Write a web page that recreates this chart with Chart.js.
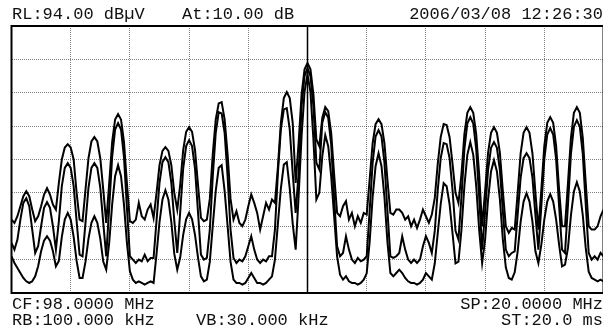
<!DOCTYPE html>
<html>
<head>
<meta charset="utf-8">
<script src="https://cdn.jsdelivr.net/npm/chart.js@4/dist/chart.umd.min.js"></script>
<style>
  html, body { margin: 0; padding: 0; background: #fff; overflow: hidden; }
  #wrap { width: 603px; height: 330px; overflow: hidden; position: relative; }
  canvas { display: block; }
</style>
</head>
<body>
<div id="wrap"><canvas id="c" width="606" height="330"></canvas></div>
<script>
// Sweep: 88 MHz .. 108 MHz (CF 98 MHz, SP 20 MHz), 201 sweep points
const sweepStartMHz = 88;
const sweepStepMHz = 0.1;
const sweepPoints = 201;
const freqMHz = [];
for (let i = 0; i < sweepPoints; i++) freqMHz.push(+(sweepStartMHz + i * sweepStepMHz).toFixed(1));

// Level axis (dBµV): reference level 94, 10 dB/div, 8 divisions
const levelTicks = [14, 24, 34, 44, 54, 64, 74, 84, 94];
const freqTicks = [88, 90, 92, 94, 96, 98, 100, 102, 104, 106, 108];

// Trace 1 (upper, max hold) dBµV
const traceUpper = [
  36, 35, 37, 40, 43, 44.5, 43, 39, 35.5, 37,
  40, 43.5, 45.4, 43.5, 40.5, 39, 47, 54, 57.6, 58.6,
  57.6, 54, 44, 36, 35.5, 45, 54.3, 59.4, 60.7, 59.4,
  54.3, 45, 35, 46.8, 59.2, 66, 67.6, 66, 59.2, 46.8,
  35.5, 35, 36, 41, 37, 36, 39, 40.5, 36.5, 44,
  52.3, 56.6, 57.7, 56.6, 52.3, 44, 39, 46.5, 56.8, 62.3,
  63.7, 62.3, 56.8, 46.5, 36.5, 35.5, 36, 42.2, 55.6, 66,
  70.8, 71.2, 66, 55.6, 42.2, 36, 38.5, 35, 34, 36,
  40, 43.5, 41, 38, 33, 37, 41, 39, 42, 41,
  51.7, 65, 72.4, 74.2, 72.4, 65, 47, 59, 73.5, 81,
  82.9, 81, 73.5, 60, 58, 66.5, 69.7, 68.5, 62, 49.5,
  38, 37, 40, 41.5, 36, 38, 34, 37, 35, 38,
  37.5, 48, 58.8, 64.6, 66.1, 64.6, 58.8, 48, 38, 37.5,
  39, 39, 38, 36, 37, 34, 36, 33.5, 36, 39,
  37, 35, 37.5, 42.5, 52.7, 60.7, 64.6, 64.3, 60.7, 52.7,
  44, 41, 49.5, 61.5, 68, 69.7, 68, 61.5, 49.5, 34,
  44.5, 56, 62, 63.7, 62, 56, 44.5, 34, 32, 33.5,
  33, 44, 55.8, 62, 63.7, 62, 55.8, 44, 33, 45,
  58, 65, 66.7, 65, 58, 45, 34, 34, 47, 60.5,
  68, 69.7, 68, 60.5, 47, 34, 33, 33, 34, 37,
  39
];

// Trace 2 (middle, clear/write) dBµV
const traceMiddle = [
  29, 27, 30, 36, 41, 42.4, 40, 33, 26, 28,
  34, 39.5, 41.2, 39.5, 34, 27, 35.5, 46, 51.5, 52.9,
  51.5, 46, 35.5, 25.5, 25, 35, 45.5, 51.5, 52.9, 51.5,
  45.5, 35, 25, 39.5, 54.7, 63, 64.9, 63, 54.7, 39.5,
  25, 24, 23, 24, 23.5, 25.5, 23.5, 24.5, 24.5, 35.7,
  47, 53.2, 54.7, 53.2, 47, 35.7, 26, 38.3, 51.3, 58,
  59.8, 58, 51.3, 38.3, 25.5, 24, 24.5, 33, 49, 62,
  68.2, 67.8, 62, 49, 33, 24.5, 23, 24, 23.5, 25,
  28, 31, 27, 24, 23, 24, 23.5, 25, 25, 33,
  50, 63, 69, 69.4, 63, 50, 38, 50, 70, 79,
  81.4, 79, 70, 53, 51, 65, 68.2, 66.5, 58.5, 42.5,
  28, 25, 26, 31, 27, 24, 23, 24.5, 23.5, 24,
  25, 38.7, 53, 60.9, 62.8, 60.9, 53, 38.7, 25, 24.5,
  25, 26, 31, 27, 24, 23, 24, 23, 24, 28,
  31, 29, 26, 32.6, 44.8, 54.4, 58.9, 58.6, 54.4, 44.8,
  32.6, 30, 42.7, 57, 64.8, 66.7, 64.8, 57, 42.7, 27,
  38.5, 50.8, 57.5, 59.2, 57.5, 50.8, 38.5, 27, 25, 26,
  26.5, 37.4, 48.5, 54.4, 55.9, 54.4, 48.5, 37.4, 27, 40,
  54, 61.5, 63.4, 61.5, 54, 40, 27, 26, 40.5, 55.7,
  63.8, 65.8, 63.8, 55.7, 40.5, 26, 24, 25, 24, 26,
  25
];

// Trace 3 (lower, min hold) dBµV
const traceLower = [
  25, 23, 21.5, 20, 18.5, 17.5, 17, 17.5, 19, 22,
  26.5, 29.7, 31, 29.7, 26.5, 22, 23.6, 30.8, 36, 38,
  36, 30.8, 23.6, 18.5, 18.5, 23.4, 30.2, 35, 37, 35,
  30.2, 23.4, 21, 29, 40.5, 49, 52.3, 49, 40.5, 29,
  20.5, 18, 17, 17.5, 17, 16.5, 17, 17.5, 17, 25.7,
  35.2, 42, 44.8, 42, 35.2, 25.7, 21, 24.7, 31.4, 36.1,
  38, 36.1, 31.4, 24.7, 19, 17.5, 18, 23.4, 34.2, 44.6,
  51.5, 52.3, 44.6, 34.2, 23.4, 18, 17, 17, 16.5, 17,
  18.5, 20, 18.5, 17, 17, 16.5, 17, 18, 19, 24,
  34.8, 45.3, 52.5, 53.2, 45.3, 34.8, 27, 43, 61, 74.3,
  79.5, 74.3, 60, 42, 44, 55, 61.3, 58, 49, 37,
  25, 19.5, 18, 19, 17.5, 17, 17, 16.5, 17, 18,
  19.9, 29.4, 42.7, 52, 55.9, 52, 42.7, 29.4, 20, 19,
  20, 21, 20, 18.5, 17.5, 17, 17, 16.5, 17, 18,
  20, 19, 18, 22.9, 31.9, 40.6, 46.9, 46, 40.6, 31.9,
  22.9, 23.4, 32.8, 46, 55.4, 59.2, 55.4, 46, 32.8, 23,
  30, 42, 50.4, 53.8, 50.4, 42, 30, 21.7, 18.5, 18,
  20.2, 26.5, 35.3, 41.4, 43.9, 41.4, 35.3, 26.5, 23, 28.5,
  36, 41.4, 43.6, 41.4, 36, 28.5, 22, 22.5, 27.5, 37.3,
  44.4, 47.2, 44.4, 37.3, 27.5, 20.4, 18.5, 18, 17.5, 18,
  17.5
];

// Instrument annotation texts
const headerLeft = "RL:94.00 dB\u00B5V";
const headerMid = "At:10.00 dB";
const headerRight = "2006/03/08 12:26:30";
const footer1Left = "CF:98.0000 MHz";
const footer1Right = "SP:20.0000 MHz";
const footer2Left = "RB:100.000 kHz";
const footer2Mid = "VB:30.000 kHz";
const footer2Right = "ST:20.0 ms";
const centerFreqMHz = 98;

const toPts = arr => arr.map((v, i) => ({ x: freqMHz[i], y: v }));

const frame = {
  id: 'frame',
  beforeDatasetsDraw(chart) {
    const { ctx, chartArea: a, scales } = chart;
    const cx = scales.x.getPixelForValue(centerFreqMHz);
    ctx.save();
    ctx.strokeStyle = '#000';
    ctx.lineWidth = 1.5;
    ctx.beginPath();
    ctx.moveTo(cx, a.top);
    ctx.lineTo(cx, a.bottom);
    ctx.stroke();
    ctx.restore();
  },
  afterDraw(chart) {
    const { ctx, chartArea: a } = chart;
    ctx.save();
    ctx.strokeStyle = '#000';
    ctx.lineWidth = 2;
    ctx.strokeRect(a.left, a.top, a.right - a.left, a.bottom - a.top);
    ctx.fillStyle = '#111';
    ctx.font = '17px "Liberation Mono", "Courier New", monospace';
    ctx.textBaseline = 'alphabetic';
    ctx.textAlign = 'left';
    ctx.fillText(headerLeft, 12, 19);
    ctx.fillText(headerMid, 182, 19);
    ctx.fillText(footer1Left, 12, 309);
    ctx.fillText(footer2Left, 12, 325);
    ctx.fillText(footer2Mid, 196, 325);
    ctx.textAlign = 'right';
    ctx.fillText(headerRight, 603, 19);
    ctx.fillText(footer1Right, 603, 309);
    ctx.fillText(footer2Right, 603, 325);
    ctx.restore();
  }
};

const lineStyle = {
  borderColor: '#000',
  borderWidth: 2,
  pointRadius: 0,
  tension: 0,
  fill: false
};

new Chart(document.getElementById('c'), {
  type: 'line',
  data: {
    datasets: [
      Object.assign({ label: 'Trace 1', data: toPts(traceUpper) }, lineStyle),
      Object.assign({ label: 'Trace 2', data: toPts(traceMiddle) }, lineStyle),
      Object.assign({ label: 'Trace 3', data: toPts(traceLower) }, lineStyle)
    ]
  },
  options: {
    responsive: false,
    animation: false,
    events: [],
    layout: { padding: { left: 11.5, right: 2.5, top: 26, bottom: 37 } },
    plugins: { legend: { display: false }, tooltip: { enabled: false }, title: { display: false } },
    scales: {
      x: {
        type: 'linear',
        min: freqTicks[0],
        max: freqTicks[freqTicks.length - 1],
        afterBuildTicks: s => { s.ticks = freqTicks.map(v => ({ value: v })); },
        ticks: { display: false },
        grid: { color: 'rgba(0,0,0,0.5)', lineWidth: 1, drawTicks: false },
        border: { display: false, dash: [1, 1] }
      },
      y: {
        type: 'linear',
        min: levelTicks[0],
        max: levelTicks[levelTicks.length - 1],
        afterBuildTicks: s => { s.ticks = levelTicks.map(v => ({ value: v })); },
        ticks: { display: false },
        grid: { color: 'rgba(0,0,0,0.5)', lineWidth: 1, drawTicks: false },
        border: { display: false, dash: [1, 1] }
      }
    }
  },
  plugins: [frame]
});
</script>
</body>
</html>
